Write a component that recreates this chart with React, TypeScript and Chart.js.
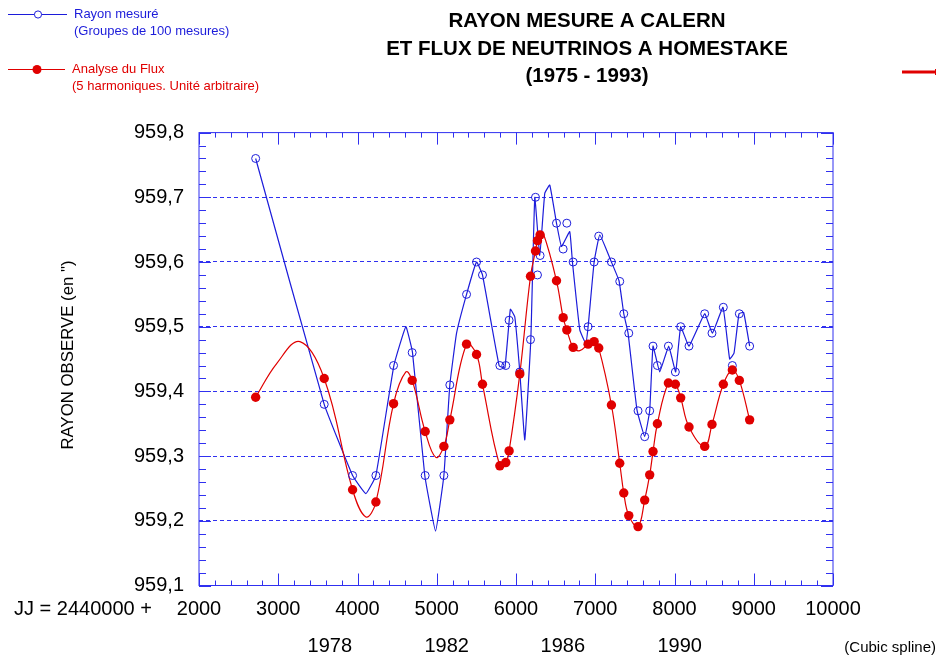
import React, { useEffect, useRef } from 'react';
import { Chart, registerables } from 'chart.js';

Chart.register(...registerables);

// ---- Data ----
// Julian days (JJ - 2440000) of the measurement groups
const rayonJJ = [2715, 3580, 3938, 4232, 4455, 4690, 4854, 5090, 5165, 5376, 5502, 5577, 5796, 5871, 5913, 6048, 6183, 6246, 6271, 6304, 6511, 6595, 6641, 6721, 6910, 6986, 7044, 7204, 7309, 7360, 7423, 7540, 7624, 7687, 7729, 7784, 7923, 8011, 8078, 8183, 8381, 8473, 8616, 8730, 8818, 8948];
// Measured radius (arcsec, 959.xx)
const rayonValues = [959.76, 959.38, 959.27, 959.27, 959.44, 959.46, 959.27, 959.27, 959.41, 959.55, 959.6, 959.58, 959.44, 959.44, 959.51, 959.43, 959.48, 959.7, 959.58, 959.61, 959.66, 959.62, 959.66, 959.6, 959.5, 959.6, 959.64, 959.6, 959.57, 959.52, 959.49, 959.37, 959.33, 959.37, 959.47, 959.44, 959.47, 959.43, 959.5, 959.47, 959.52, 959.49, 959.53, 959.44, 959.52, 959.47];
// Flux analysis (5 harmonics, arbitrary unit) at the same dates
const fluxValues = [959.391, 959.42, 959.248, 959.229, 959.381, 959.417, 959.338, 959.315, 959.356, 959.473, 959.457, 959.411, 959.285, 959.29, 959.308, 959.427, 959.578, 959.617, 959.633, 959.642, 959.571, 959.514, 959.495, 959.468, 959.473, 959.477, 959.467, 959.379, 959.289, 959.243, 959.208, 959.191, 959.232, 959.271, 959.307, 959.35, 959.413, 959.411, 959.39, 959.345, 959.315, 959.349, 959.411, 959.433, 959.417, 959.356];

// Cubic-spline curve of the measured radius (traced vertices)
const rayonCurveJJ = [2715, 3580, 3938, 4106, 4232, 4459, 4610, 4694, 4849, 4985, 5090, 5165, 5250, 5376, 5502, 5577, 5787, 5859, 5929, 5985, 6048, 6111, 6187, 6237, 6300, 6363, 6426, 6511, 6574, 6678, 6712, 6805, 6880, 6910, 6986, 7057, 7204, 7300, 7360, 7414, 7527, 7624, 7687, 7729, 7813, 7927, 8015, 8078, 8183, 8381, 8478, 8612, 8696, 8751, 8814, 8873, 8948];
const rayonCurveValues = [959.76, 959.38, 959.27, 959.242, 959.27, 959.44, 959.5, 959.46, 959.27, 959.184, 959.27, 959.41, 959.49, 959.55, 959.6, 959.58, 959.44, 959.436, 959.527, 959.515, 959.43, 959.325, 959.48, 959.7, 959.61, 959.706, 959.719, 959.66, 959.624, 959.647, 959.6, 959.495, 959.474, 959.5, 959.6, 959.642, 959.6, 959.571, 959.52, 959.49, 959.371, 959.33, 959.37, 959.47, 959.43, 959.47, 959.43, 959.5, 959.47, 959.52, 959.49, 959.53, 959.45, 959.459, 959.52, 959.522, 959.47];

// Extra extrema of the flux spline between the sample dates (traced)
const fluxCurveExtraJJ = [2980, 3274, 4106, 4610, 4988, 6345, 6805];
const fluxCurveExtraValues = [959.443, 959.477, 959.206, 959.43, 959.298, 959.644, 959.463];

// Axis definitions
const xMin = 2000;
const xMax = 10000;
const yMin = 959.1;
const yMax = 959.8;
const yearLabels = ['1978', '1982', '1986', '1990'];
const yearPositions = [3650, 5125, 6590, 8065];

const BLUE = 'rgb(28,28,218)';
const GRID_BLUE = 'rgb(48,48,240)';
const RED = 'rgb(224,0,0)';
const FONT = '"Liberation Sans", Arial, Helvetica, sans-serif';

const decorPlugin = {
  id: 'decor',
  afterDatasetsDraw(chart: any) {
    const { ctx, chartArea } = chart;
    const xs = chart.scales.x;
    const ys = chart.scales.y;
    const { left, right, top, bottom } = chartArea;
    ctx.save();
    ctx.strokeStyle = GRID_BLUE;
    ctx.lineWidth = 1;
    ctx.setLineDash([]);
    // frame
    ctx.strokeRect(left, top, right - left, bottom - top);
    // inner ticks x
    ctx.beginPath();
    for (let i = 0; i <= 40; i++) {
      const v = xMin + i * 200;
      const px = Math.round(xs.getPixelForValue(v)) + 0.5;
      const len = i % 5 === 0 ? 12 : 5;
      ctx.moveTo(px, top);
      ctx.lineTo(px, top + len);
      ctx.moveTo(px, bottom);
      ctx.lineTo(px, bottom - len);
    }
    // inner ticks y
    for (let i = 0; i <= 35; i++) {
      const v = yMin + i * 0.02;
      const py = Math.round(ys.getPixelForValue(v)) + 0.5;
      const len = i % 5 === 0 ? 12 : 7;
      ctx.moveTo(left, py);
      ctx.lineTo(left + len, py);
      ctx.moveTo(right, py);
      ctx.lineTo(right - len, py);
    }
    ctx.stroke();
    ctx.restore();
  },
  afterDraw(chart: any) {
    const { ctx } = chart;
    ctx.save();
    // Title
    ctx.fillStyle = '#000';
    ctx.textAlign = 'center';
    ctx.textBaseline = 'middle';
    ctx.font = `bold 20.5px ${FONT}`;
    ctx.fillText('RAYON MESURE A CALERN', 587, 21);
    ctx.fillText('ET FLUX DE NEUTRINOS A HOMESTAKE', 587, 49);
    ctx.fillText('(1975 - 1993)', 587, 76);

    // Axis captions
    ctx.font = `20px ${FONT}`;
    ctx.textAlign = 'left';
    ctx.fillText('JJ = 2440000 +', 14, 609);
    ctx.font = `15px ${FONT}`;
    ctx.textAlign = 'right';
    ctx.fillText('(Cubic spline)', 936, 648);

    // Y axis title
    ctx.save();
    ctx.translate(68, 355);
    ctx.rotate(-Math.PI / 2);
    ctx.textAlign = 'center';
    ctx.font = `16.8px ${FONT}`;
    ctx.fillText('RAYON OBSERVE (en ")', 0, 0);
    ctx.restore();

    // Legend
    ctx.lineWidth = 1;
    ctx.strokeStyle = BLUE;
    ctx.beginPath();
    ctx.moveTo(8, 14.5);
    ctx.lineTo(67, 14.5);
    ctx.stroke();
    ctx.beginPath();
    ctx.arc(38, 14.5, 3.6, 0, Math.PI * 2);
    ctx.fillStyle = '#fff';
    ctx.fill();
    ctx.stroke();
    ctx.fillStyle = BLUE;
    ctx.textAlign = 'left';
    ctx.font = `13px ${FONT}`;
    ctx.fillText('Rayon mesuré', 74, 14);
    ctx.fillText('(Groupes de 100 mesures)', 74, 31);

    ctx.strokeStyle = RED;
    ctx.beginPath();
    ctx.moveTo(8, 69.5);
    ctx.lineTo(65, 69.5);
    ctx.stroke();
    ctx.beginPath();
    ctx.arc(37, 69.5, 4.5, 0, Math.PI * 2);
    ctx.fillStyle = RED;
    ctx.fill();
    ctx.fillText('Analyse du Flux', 72, 69);
    ctx.fillText('(5 harmoniques. Unité arbitraire)', 72, 86);

    // small red arrow, top right
    ctx.lineWidth = 3;
    ctx.beginPath();
    ctx.moveTo(902, 72);
    ctx.lineTo(935, 72);
    ctx.stroke();
    ctx.lineWidth = 1;
    ctx.beginPath();
    ctx.moveTo(935.5, 69);
    ctx.lineTo(935.5, 75);
    ctx.stroke();
    ctx.restore();
  },
};

export default function App() {
  const ref = useRef<HTMLCanvasElement | null>(null);

  useEffect(() => {
    const canvas = ref.current;
    if (!canvas) return;

    const rayonPoints = rayonJJ.map((x, i) => ({ x, y: rayonValues[i] }));
    const fluxPoints = rayonJJ.map((x, i) => ({ x, y: fluxValues[i] }));
    const rayonCurve = rayonCurveJJ.map((x, i) => ({ x, y: rayonCurveValues[i] }));
    const fluxCurve = fluxPoints
      .concat(fluxCurveExtraJJ.map((x, i) => ({ x, y: fluxCurveExtraValues[i] })))
      .sort((a, b) => a.x - b.x);

    const chart = new Chart(canvas, {
      type: 'scatter',
      data: {
        datasets: [
          {
            label: 'Analyse du Flux',
            data: fluxPoints,
            showLine: false,
            pointRadius: 4.7,
            pointBackgroundColor: RED,
            pointBorderColor: RED,
            pointBorderWidth: 0,
          },
          {
            label: 'Rayon mesuré',
            data: rayonPoints,
            showLine: false,
            pointRadius: 4,
            pointBackgroundColor: 'rgba(255,255,255,0)',
            pointBorderColor: BLUE,
            pointBorderWidth: 1,
          },
          {
            label: 'Flux spline',
            data: fluxCurve,
            showLine: true,
            pointRadius: 0,
            borderColor: RED,
            borderWidth: 1.2,
            tension: 0.4,
          },
          {
            label: 'Rayon spline',
            data: rayonCurve,
            showLine: true,
            pointRadius: 0,
            borderColor: BLUE,
            borderWidth: 1.2,
            tension: 0.1,
          },
        ],
      },
      options: {
        responsive: false,
        animation: false,
        devicePixelRatio: 1,
        events: [],
        layout: { padding: { left: 0, top: 132.6, right: 105, bottom: 0 } },
        plugins: {
          legend: { display: false },
          title: { display: false },
          tooltip: { enabled: false },
        },
        scales: {
          x: {
            type: 'linear',
            position: 'bottom',
            weight: 0,
            min: xMin,
            max: xMax,
            grid: { display: false, drawTicks: false },
            border: { display: false },
            ticks: {
              stepSize: 1000,
              autoSkip: false,
              maxRotation: 0,
              padding: 11.5,
              color: '#000',
              font: { family: FONT, size: 20 },
              callback: (v: any) => String(v),
            },
            afterFit: (s: any) => {
              s.height = 40;
            },
          },
          years: {
            type: 'linear',
            position: 'bottom',
            weight: 1,
            min: xMin,
            max: xMax,
            grid: { display: false, drawTicks: false },
            border: { display: false },
            afterBuildTicks: (s: any) => {
              s.ticks = yearPositions.map((v) => ({ value: v }));
            },
            ticks: {
              autoSkip: false,
              maxRotation: 0,
              padding: 8.5,
              color: '#000',
              font: { family: FONT, size: 20 },
              callback: (_v: any, i: number) => yearLabels[i],
            },
            afterFit: (s: any) => {
              s.height = 35.5;
            },
          },
          y: {
            type: 'linear',
            min: yMin,
            max: yMax,
            grid: {
              drawTicks: false,
              lineWidth: 1,
              color: (c: any) => {
                const v = c.tick ? c.tick.value : 0;
                if (v <= yMin + 1e-6 || v >= yMax - 1e-6) return 'rgba(0,0,0,0)';
                return GRID_BLUE;
              },
            },
            border: { display: false, dash: [4, 3] },
            ticks: {
              stepSize: 0.1,
              padding: 15,
              color: '#000',
              font: { family: FONT, size: 20 },
              callback: (v: any) => Number(v).toFixed(1).replace('.', ','),
            },
            afterFit: (s: any) => {
              s.width = 199;
            },
          },
        },
      },
      plugins: [decorPlugin],
    });

    return () => {
      chart.destroy();
    };
  }, []);

  return (
    <div style={{ position: 'absolute', left: 0, top: 0, width: 938, height: 661, background: '#fff' }}>
      <canvas ref={ref} width={938} height={661} style={{ display: 'block' }} />
    </div>
  );
}
